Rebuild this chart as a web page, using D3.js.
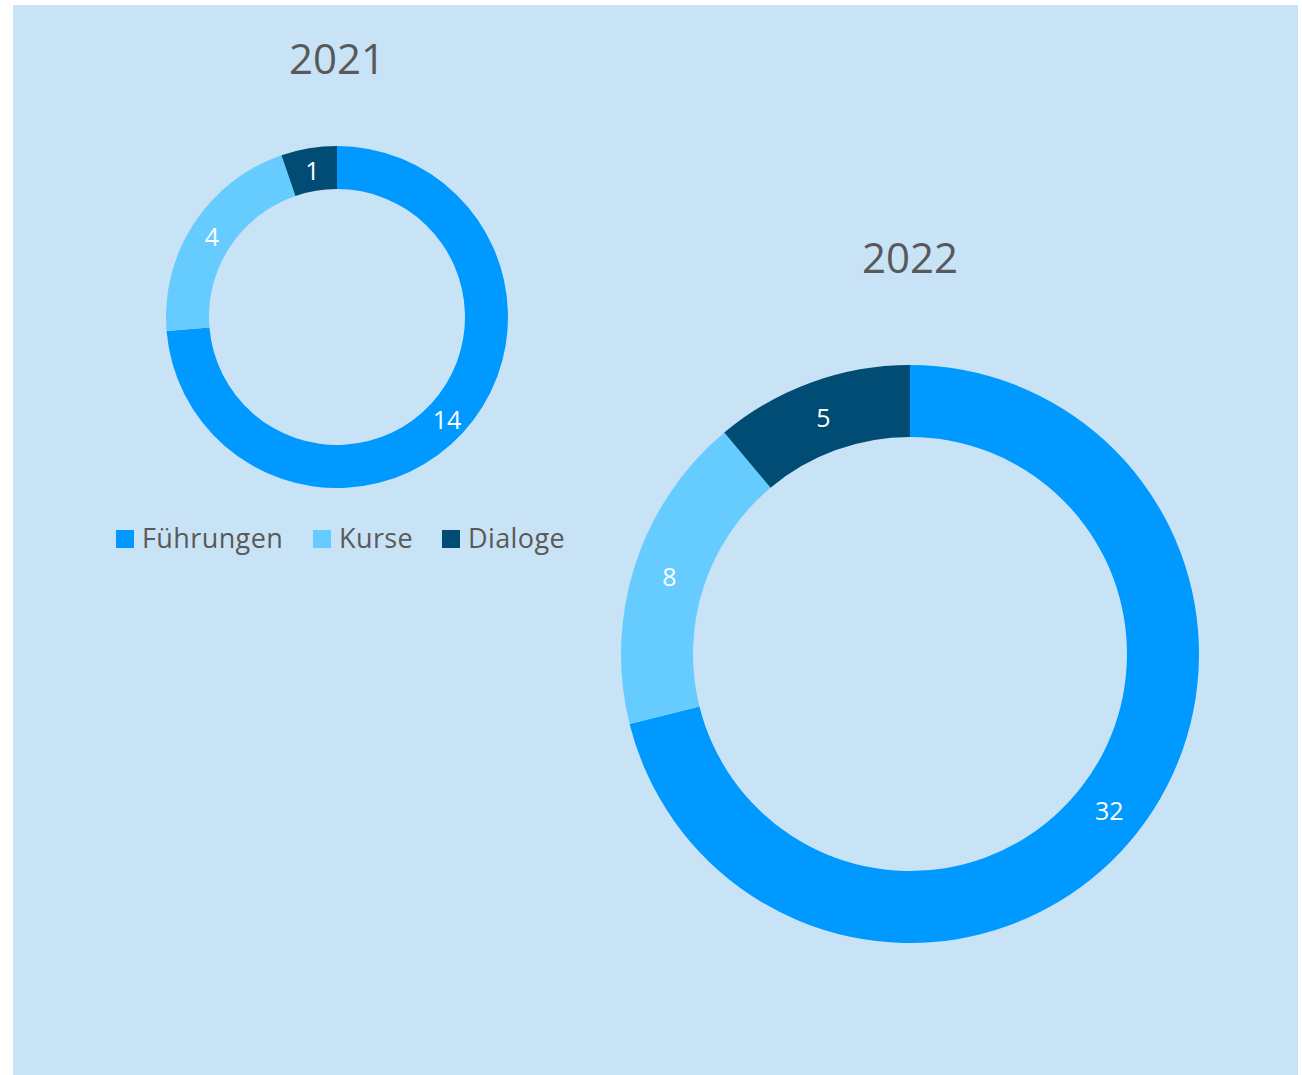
<!DOCTYPE html>
<html>
<head>
<meta charset="utf-8">
<script src="https://cdn.jsdelivr.net/npm/d3@7"></script>
<style>
  html, body { margin: 0; padding: 0; background: #fff; }
  svg { display: block; }
  text { font-family: "Open Sans", "Noto Sans", sans-serif; }
</style>
</head>
<body>
<div id="chart"></div>
<script>
// data
const categories = ['Führungen', 'Kurse', 'Dialoge'];
const colors = ['#0099FF', '#66CCFF', '#004C75'];
const years = ['2021', '2022'];
const values2021 = [14, 4, 1];
const values2022 = [32, 8, 5];

const width = 1302;
const height = 1075;

const svg = d3.select('#chart')
  .append('svg')
  .attr('width', width)
  .attr('height', height);

// panel background
svg.append('rect')
  .attr('x', 13)
  .attr('y', 5)
  .attr('width', 1285)
  .attr('height', 1070)
  .attr('fill', '#C9E3F6');

const color = d3.scaleOrdinal().domain(categories).range(colors);

const pie = d3.pie().sort(null).value(d => d.value);

function drawDonut(values, cx, cy, rOuter, rInner, title, titleY) {
  const rows = categories.map((c, i) => ({ cat: c, value: values[i] }));
  const arcs = pie(rows);
  const arc = d3.arc().innerRadius(rInner).outerRadius(rOuter);

  const g = svg.append('g').attr('transform', `translate(${cx},${cy})`);

  g.selectAll('path')
    .data(arcs)
    .join('path')
    .attr('d', arc)
    .attr('fill', d => color(d.data.cat));

  g.selectAll('text.lbl')
    .data(arcs)
    .join('text')
    .attr('class', 'lbl')
    .attr('transform', d => `translate(${arc.centroid(d)})`)
    .attr('text-anchor', 'middle')
    .attr('dy', '0.42em')
    .attr('fill', '#fff')
    .attr('font-size', 25)
    .text(d => d.data.value);

  svg.append('text')
    .attr('x', cx)
    .attr('y', titleY)
    .attr('text-anchor', 'middle')
    .attr('fill', '#595959')
    .attr('font-size', 42)
    .text(title);
}

drawDonut(values2021, 337, 317, 171, 128, years[0], 74);
drawDonut(values2022, 910, 654, 289, 217, years[1], 273);

// legend
const legendX = [116, 313, 442];
const legend = svg.append('g');
categories.forEach((c, i) => {
  legend.append('rect')
    .attr('x', legendX[i])
    .attr('y', 530)
    .attr('width', 18)
    .attr('height', 18)
    .attr('fill', color(c));
  legend.append('text')
    .attr('x', legendX[i] + 26)
    .attr('y', 548)
    .attr('fill', '#595959')
    .attr('font-size', 27)
    .attr('letter-spacing', 0.4)
    .text(c);
});
</script>
</body>
</html>
